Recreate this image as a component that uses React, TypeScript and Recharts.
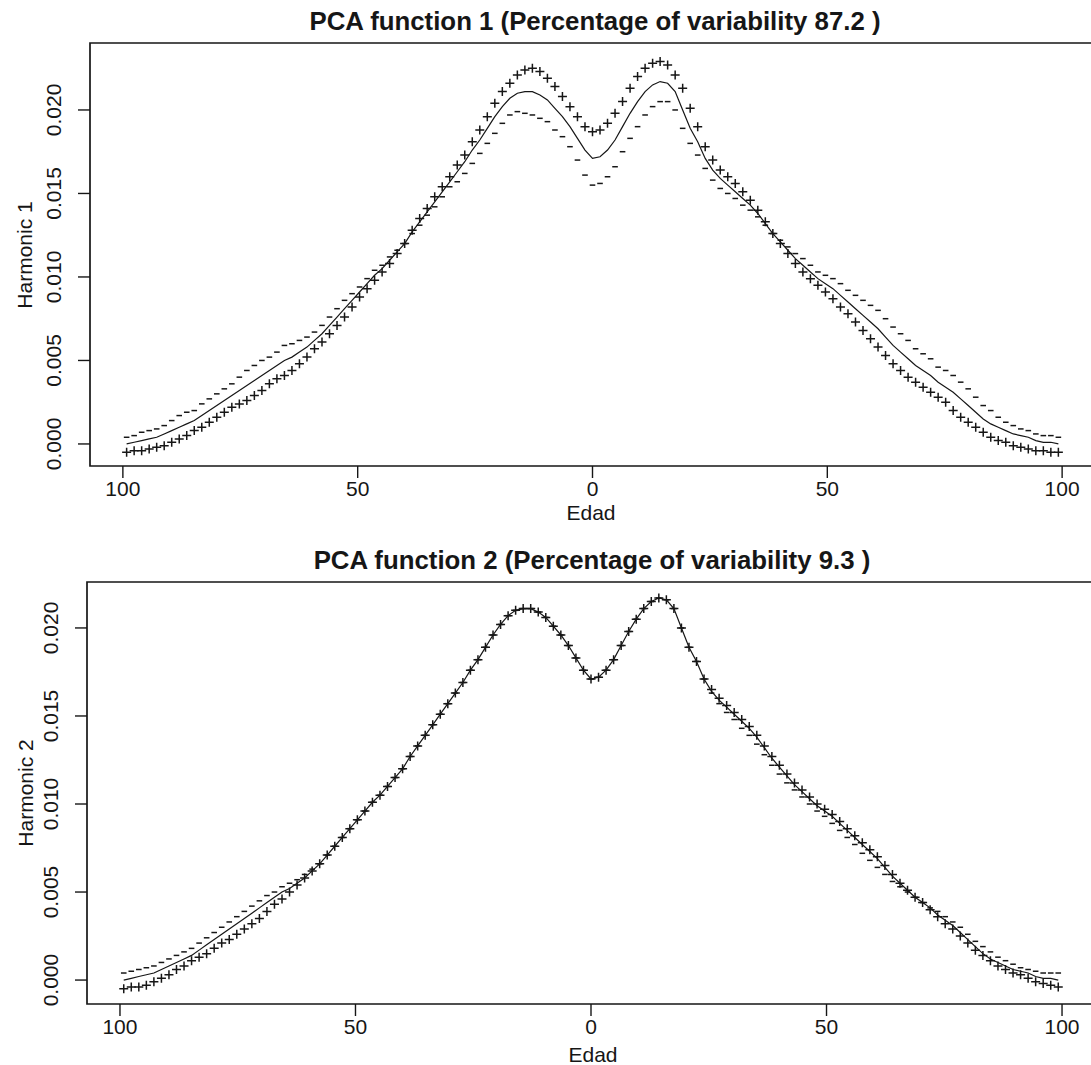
/**
 * PCA harmonics chart
 *
 * Two stacked panels in the style of R's plot.pca.fd: the mean curve as a
 * solid line, mean + harmonic drawn with "+" and mean - harmonic with "-".
 */

import { LineChart, Line, XAxis, YAxis, ReferenceArea } from 'recharts';

// Edad (signed so both halves of the axis can be drawn; labels show |x|)
const edad = [
  -99.2, -97.6, -96.0, -94.4, -92.8, -91.2, -89.6, -88.0, -86.4, -84.8,
  -83.2, -81.6, -80.0, -78.4, -76.8, -75.2, -73.6, -72.0, -70.4, -68.8,
  -67.2, -65.6, -64.0, -62.4, -60.8, -59.2, -57.6, -56.0, -54.4, -52.8,
  -51.2, -49.6, -48.0, -46.4, -44.8, -43.2, -41.6, -40.0, -38.4, -36.8,
  -35.2, -33.6, -32.0, -30.4, -28.8, -27.2, -25.6, -24.0, -22.4, -20.8,
  -19.2, -17.6, -16.0, -14.4, -12.8, -11.2, -9.6, -8.0, -6.4, -4.8,
  -3.2, -1.6, 0, 1.6, 3.2, 4.8, 6.4, 8.0, 9.6, 11.2,
  12.8, 14.4, 16.0, 17.6, 19.2, 20.8, 22.4, 24.0, 25.6, 27.2,
  28.8, 30.4, 32.0, 33.6, 35.2, 36.8, 38.4, 40.0, 41.6, 43.2,
  44.8, 46.4, 48.0, 49.6, 51.2, 52.8, 54.4, 56.0, 57.6, 59.2,
  60.8, 62.4, 64.0, 65.6, 67.2, 68.8, 70.4, 72.0, 73.6, 75.2,
  76.8, 78.4, 80.0, 81.6, 83.2, 84.8, 86.4, 88.0, 89.6, 91.2,
  92.8, 94.4, 96.0, 97.6, 99.2,
];

// Mean function (solid line, same in both panels)
const media = [
  0.0000, 0.0001, 0.0002, 0.0003, 0.0004, 0.0006, 0.0008, 0.0010, 0.0012, 0.0014,
  0.0017, 0.0020, 0.0023, 0.0026, 0.0029, 0.0032, 0.0035, 0.0038, 0.0041, 0.0044,
  0.0047, 0.0050, 0.0052, 0.0055, 0.0058, 0.0062, 0.0066, 0.0071, 0.0076, 0.0081,
  0.0086, 0.0091, 0.0096, 0.0101, 0.0105, 0.0110, 0.0115, 0.0120, 0.0127, 0.0133,
  0.0139, 0.0145, 0.0151, 0.0157, 0.0163, 0.0169, 0.0176, 0.0182, 0.0189, 0.0196,
  0.0202, 0.0207, 0.0210, 0.0211, 0.0211, 0.0209, 0.0206, 0.0201, 0.0196, 0.0190,
  0.0183, 0.0176, 0.0171, 0.0172, 0.0176, 0.0182, 0.0190, 0.0198, 0.0205, 0.0211,
  0.0215, 0.0217, 0.0216, 0.0211, 0.0200, 0.0189, 0.0181, 0.0171, 0.0164, 0.0159,
  0.0155, 0.0151, 0.0147, 0.0143, 0.0138, 0.0132, 0.0126, 0.0121, 0.0116, 0.0111,
  0.0107, 0.0103, 0.0099, 0.0096, 0.0093, 0.0089, 0.0085, 0.0081, 0.0077, 0.0073,
  0.0069, 0.0064, 0.0059, 0.0055, 0.0051, 0.0047, 0.0044, 0.0041, 0.0037, 0.0034,
  0.0031, 0.0027, 0.0023, 0.0019, 0.0015, 0.0012, 0.0010, 0.0008, 0.0006, 0.0005,
  0.0004, 0.0002, 0.0001, 0.0001, 0.0000,
];

// Harmonic 1: mean + harmonic ("+") and mean - harmonic ("-")
const pc1Mas = [
  -0.0005, -0.0004, -0.0004, -0.0003, -0.0002, -0.0001, 0.0001, 0.0003, 0.0005, 0.0008,
  0.0010, 0.0013, 0.0016, 0.0019, 0.0022, 0.0024, 0.0026, 0.0029, 0.0032, 0.0036,
  0.0039, 0.0041, 0.0044, 0.0048, 0.0052, 0.0057, 0.0061, 0.0066, 0.0071, 0.0076,
  0.0082, 0.0088, 0.0093, 0.0098, 0.0103, 0.0108, 0.0114, 0.0120, 0.0128, 0.0135,
  0.0141, 0.0148, 0.0154, 0.0160, 0.0167, 0.0173, 0.0181, 0.0188, 0.0196, 0.0204,
  0.0211, 0.0216, 0.0221, 0.0224, 0.0225, 0.0223, 0.0219, 0.0214, 0.0208, 0.0202,
  0.0196, 0.0190, 0.0187, 0.0188, 0.0192, 0.0198, 0.0205, 0.0213, 0.0220, 0.0225,
  0.0228, 0.0229, 0.0227, 0.0221, 0.0213, 0.0201, 0.0190, 0.0178, 0.0170, 0.0164,
  0.0160, 0.0156, 0.0151, 0.0146, 0.0140, 0.0133, 0.0126, 0.0120, 0.0114, 0.0108,
  0.0103, 0.0099, 0.0095, 0.0091, 0.0087, 0.0082, 0.0078, 0.0073, 0.0068, 0.0063,
  0.0058, 0.0053, 0.0048, 0.0044, 0.0040, 0.0037, 0.0034, 0.0031, 0.0028, 0.0025,
  0.0020, 0.0016, 0.0013, 0.0010, 0.0007, 0.0004, 0.0002, 0.0001, -0.0001, -0.0002,
  -0.0003, -0.0004, -0.0004, -0.0005, -0.0005,
];

const pc1Menos = [
  0.0004, 0.0005, 0.0007, 0.0008, 0.0009, 0.0011, 0.0014, 0.0017, 0.0019, 0.0020,
  0.0024, 0.0027, 0.0030, 0.0033, 0.0036, 0.0040, 0.0044, 0.0047, 0.0050, 0.0052,
  0.0055, 0.0059, 0.0060, 0.0062, 0.0064, 0.0067, 0.0071, 0.0076, 0.0081, 0.0086,
  0.0090, 0.0094, 0.0099, 0.0104, 0.0107, 0.0112, 0.0116, 0.0120, 0.0126, 0.0131,
  0.0137, 0.0142, 0.0148, 0.0154, 0.0157, 0.0162, 0.0168, 0.0174, 0.0180, 0.0186,
  0.0192, 0.0197, 0.0199, 0.0198, 0.0197, 0.0195, 0.0193, 0.0188, 0.0184, 0.0178,
  0.0170, 0.0161, 0.0155, 0.0156, 0.0160, 0.0166, 0.0175, 0.0183, 0.0190, 0.0197,
  0.0202, 0.0205, 0.0205, 0.0200, 0.0189, 0.0180, 0.0173, 0.0165, 0.0158, 0.0153,
  0.0150, 0.0147, 0.0143, 0.0140, 0.0136, 0.0131, 0.0126, 0.0122, 0.0118, 0.0114,
  0.0111, 0.0107, 0.0103, 0.0101, 0.0099, 0.0096, 0.0092, 0.0089, 0.0086, 0.0083,
  0.0080, 0.0075, 0.0070, 0.0066, 0.0062, 0.0057, 0.0054, 0.0051, 0.0046, 0.0044,
  0.0041, 0.0037, 0.0033, 0.0028, 0.0023, 0.0020, 0.0016, 0.0013, 0.0011, 0.0009,
  0.0008, 0.0006, 0.0005, 0.0005, 0.0004,
];

// Harmonic 2
const pc2Mas = [
  -0.0005, -0.0004, -0.0004, -0.0003, -0.0001, 0.0001, 0.0003, 0.0006, 0.0008, 0.0011,
  0.0013, 0.0015, 0.0018, 0.0021, 0.0023, 0.0026, 0.0029, 0.0032, 0.0035, 0.0039,
  0.0043, 0.0046, 0.0050, 0.0054, 0.0058, 0.0062, 0.0066, 0.0071, 0.0076, 0.0081,
  0.0086, 0.0091, 0.0096, 0.0101, 0.0105, 0.0110, 0.0115, 0.0120, 0.0127, 0.0133,
  0.0139, 0.0145, 0.0151, 0.0157, 0.0163, 0.0169, 0.0176, 0.0182, 0.0189, 0.0196,
  0.0202, 0.0207, 0.0210, 0.0211, 0.0211, 0.0209, 0.0206, 0.0201, 0.0196, 0.0190,
  0.0183, 0.0176, 0.0171, 0.0172, 0.0176, 0.0182, 0.0190, 0.0198, 0.0205, 0.0211,
  0.0215, 0.0217, 0.0216, 0.0211, 0.0200, 0.0189, 0.0181, 0.0171, 0.0165, 0.0160,
  0.0156, 0.0152, 0.0148, 0.0144, 0.0139, 0.0133, 0.0127, 0.0122, 0.0117, 0.0112,
  0.0108, 0.0104, 0.0100, 0.0097, 0.0094, 0.0090, 0.0086, 0.0082, 0.0078, 0.0074,
  0.0070, 0.0065, 0.0060, 0.0055, 0.0051, 0.0047, 0.0044, 0.0040, 0.0036, 0.0032,
  0.0029, 0.0025, 0.0021, 0.0017, 0.0014, 0.0011, 0.0008, 0.0006, 0.0004, 0.0003,
  0.0001, -0.0001, -0.0002, -0.0003, -0.0004,
];

const pc2Menos = [
  0.0004, 0.0005, 0.0006, 0.0007, 0.0008, 0.0010, 0.0012, 0.0014, 0.0016, 0.0018,
  0.0021, 0.0024, 0.0027, 0.0030, 0.0033, 0.0036, 0.0039, 0.0042, 0.0045, 0.0048,
  0.0050, 0.0053, 0.0055, 0.0057, 0.0060, 0.0063, 0.0066, 0.0071, 0.0076, 0.0081,
  0.0086, 0.0091, 0.0096, 0.0101, 0.0105, 0.0110, 0.0115, 0.0120, 0.0127, 0.0133,
  0.0139, 0.0145, 0.0151, 0.0157, 0.0163, 0.0169, 0.0176, 0.0182, 0.0189, 0.0196,
  0.0202, 0.0207, 0.0210, 0.0211, 0.0211, 0.0209, 0.0206, 0.0201, 0.0196, 0.0190,
  0.0183, 0.0176, 0.0171, 0.0172, 0.0176, 0.0182, 0.0190, 0.0198, 0.0205, 0.0211,
  0.0215, 0.0217, 0.0216, 0.0211, 0.0200, 0.0189, 0.0181, 0.0171, 0.0163, 0.0157,
  0.0152, 0.0148, 0.0143, 0.0139, 0.0134, 0.0128, 0.0122, 0.0117, 0.0112, 0.0108,
  0.0104, 0.0100, 0.0096, 0.0093, 0.0089, 0.0085, 0.0081, 0.0077, 0.0072, 0.0068,
  0.0064, 0.0060, 0.0056, 0.0053, 0.0050, 0.0047, 0.0044, 0.0041, 0.0039, 0.0036,
  0.0033, 0.0030, 0.0026, 0.0022, 0.0019, 0.0016, 0.0013, 0.0011, 0.0009, 0.0007,
  0.0006, 0.0005, 0.0004, 0.0004, 0.0004,
];

const xTicks = [-100, -50, 0, 50, 100];
const yTicks = [0, 0.005, 0.01, 0.015, 0.02];
const titles = [
  'PCA function 1 (Percentage of variability 87.2 )',
  'PCA function 2 (Percentage of variability 9.3 )',
];

const rows = edad.map((x, i) => ({
  x,
  media: media[i],
  p1: pc1Mas[i],
  n1: pc1Menos[i],
  p2: pc2Mas[i],
  n2: pc2Menos[i],
}));

const INK = '#161616';
const FONT = '"Liberation Sans", Arial, Helvetica, sans-serif';
const X_DOMAIN: [number, number] = [-107, 107];

function plusDot(props: any) {
  const { cx, cy, index } = props;
  if (cx == null || cy == null) return <g key={`p-${index}`} />;
  return (
    <path
      key={`p-${index}`}
      d={`M${cx - 4.5} ${cy}H${cx + 4.5}M${cx} ${cy - 4.5}V${cy + 4.5}`}
      stroke={INK}
      strokeWidth={1.5}
      fill="none"
    />
  );
}

function minusDot(props: any) {
  const { cx, cy, index } = props;
  if (cx == null || cy == null) return <g key={`m-${index}`} />;
  return (
    <path key={`m-${index}`} d={`M${cx - 2.8} ${cy}H${cx + 2.8}`} stroke={INK} strokeWidth={1.5} fill="none" />
  );
}

function XTick(props: any) {
  const { x, y, payload } = props;
  return (
    <text x={x} y={y + 16} textAnchor="middle" fontSize={21} fill={INK} fontFamily={FONT}>
      {Math.abs(payload.value)}
    </text>
  );
}

function YTick(props: any) {
  const { x, y, payload } = props;
  const bx = x - 15;
  return (
    <text
      x={bx}
      y={y}
      transform={`rotate(-90 ${bx} ${y})`}
      textAnchor="middle"
      fontSize={21}
      fill={INK}
      fontFamily={FONT}
    >
      {Number(payload.value).toFixed(3)}
    </text>
  );
}

interface PanelProps {
  top: number;
  height: number;
  plotLeft: number;
  marginTop: number;
  marginBottom: number;
  yDomain: [number, number];
  plusKey: string;
  minusKey: string;
}

function Panel({ top, height, plotLeft, marginTop, marginBottom, yDomain, plusKey, minusKey }: PanelProps) {
  return (
    <div style={{ position: 'absolute', left: 0, top }}>
      <LineChart
        width={1100}
        height={height}
        data={rows}
        margin={{ top: marginTop, right: 5, bottom: marginBottom, left: 0 }}
      >
        <XAxis
          type="number"
          dataKey="x"
          domain={X_DOMAIN}
          ticks={xTicks}
          allowDataOverflow
          axisLine={false}
          tickLine={{ stroke: INK, strokeWidth: 1.4 }}
          tickSize={12}
          tickMargin={2}
          height={50}
          tick={<XTick />}
        />
        <YAxis
          type="number"
          domain={yDomain}
          ticks={yTicks}
          allowDataOverflow
          axisLine={false}
          tickLine={{ stroke: INK, strokeWidth: 1.4 }}
          tickSize={12}
          tickMargin={2}
          width={plotLeft}
          tick={<YTick />}
        />
        <Line
          type="linear"
          dataKey="media"
          stroke={INK}
          strokeWidth={1.2}
          dot={false}
          activeDot={false}
          isAnimationActive={false}
        />
        <Line
          dataKey={minusKey}
          stroke="none"
          dot={minusDot}
          activeDot={false}
          isAnimationActive={false}
        />
        <Line
          dataKey={plusKey}
          stroke="none"
          dot={plusDot}
          activeDot={false}
          isAnimationActive={false}
        />
        <ReferenceArea
          x1={X_DOMAIN[0]}
          x2={X_DOMAIN[1]}
          y1={yDomain[0]}
          y2={yDomain[1]}
          fill="none"
          stroke={INK}
          strokeWidth={1.7}
          ifOverflow="visible"
        />
      </LineChart>
    </div>
  );
}

export default function App() {
  return (
    <div
      style={{
        position: 'absolute',
        left: 0,
        top: 0,
        width: 1091,
        height: 1065,
        overflow: 'hidden',
        background: '#fff',
        fontFamily: FONT,
      }}
    >
      <Panel
        top={0}
        height={530}
        plotLeft={90}
        marginTop={43}
        marginBottom={14}
        yDomain={[-0.00132, 0.02401]}
        plusKey="p1"
        minusKey="n1"
      />
      <Panel
        top={530}
        height={535}
        plotLeft={87}
        marginTop={52}
        marginBottom={11}
        yDomain={[-0.00136, 0.02261]}
        plusKey="p2"
        minusKey="n2"
      />

      {/* Titles and axis labels */}
      <svg
        width={1091}
        height={1065}
        style={{ position: 'absolute', left: 0, top: 0, pointerEvents: 'none' }}
        fontFamily={FONT}
        fill={INK}
      >
        <text x={595} y={30} textAnchor="middle" fontSize={25.8} fontWeight="bold">
          {titles[0]}
        </text>
        <text x={592} y={569} textAnchor="middle" fontSize={25.8} fontWeight="bold">
          {titles[1]}
        </text>
        <text x={591} y={520} textAnchor="middle" fontSize={21}>
          Edad
        </text>
        <text x={593} y={1062} textAnchor="middle" fontSize={21}>
          Edad
        </text>
        <text x={32} y={255} textAnchor="middle" fontSize={21} transform="rotate(-90 32 255)">
          Harmonic 1
        </text>
        <text x={33} y={793} textAnchor="middle" fontSize={21} transform="rotate(-90 33 793)">
          Harmonic 2
        </text>
      </svg>
    </div>
  );
}
